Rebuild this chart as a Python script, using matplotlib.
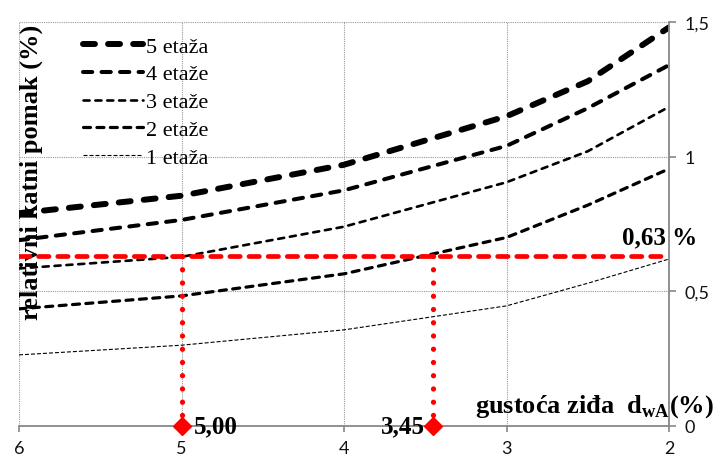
import matplotlib
matplotlib.use("Agg")
import matplotlib.pyplot as plt
from matplotlib.ticker import FuncFormatter

# gustoca zida (%) and relativni katni pomak (%) per number of storeys
gustoca = [6, 5, 4, 3, 2.5, 2]
etaze_5 = [0.79, 0.855, 0.97, 1.15, 1.28, 1.48]
etaze_4 = [0.69, 0.765, 0.875, 1.04, 1.18, 1.34]
etaze_3 = [0.585, 0.628, 0.74, 0.905, 1.02, 1.185]
etaze_2 = [0.435, 0.483, 0.565, 0.70, 0.82, 0.955]
etaze_1 = [0.264, 0.30, 0.357, 0.446, 0.53, 0.62]

granica = 0.63
odabir = [5.00, 3.45]
odabir_txt = ['5,00', '3,45']

plt.rcParams['mathtext.fontset'] = 'custom'
plt.rcParams['mathtext.rm'] = 'Liberation Serif'
plt.rcParams['mathtext.bf'] = 'Liberation Serif:bold'

fig = plt.figure(figsize=(7.16, 4.64), dpi=100)
ax = fig.add_axes([19/716, 1-427/464, (669-19)/716, (427-23)/464])

series = [
    (etaze_5, '5 etaža', 4.3, (2.0, 2.2), 'round'),
    (etaze_4, '4 etaže', 2.9, (2.3, 2.3), 'round'),
    (etaze_3, '3 etaže', 1.9, (2.3, 2.2), 'round'),
    (etaze_2, '2 etaže', 2.3, (2.2, 2.0), 'round'),
    (etaze_1, '1 etaža', 0.8, (3.6, 1.8), 'butt'),
]
for ys, lab, lw, dash, cap in series:
    ax.plot(gustoca, ys, color='black', lw=lw, dashes=dash,
            dash_capstyle=cap, label=lab, zorder=2)

# red guide lines
ax.plot([6, 2], [granica, granica], color='red', lw=3.4, dashes=(2.2, 1.85),
        dash_capstyle='round', zorder=3)
for xv, txt in zip(odabir, odabir_txt):
    ax.plot([xv, xv], [granica, 0], color='red', lw=3.8, dashes=(0.01, 2.5),
            dash_capstyle='round', zorder=3)
    ax.plot([xv], [0], marker='D', color='red', markersize=9.5,
            clip_on=False, zorder=4)
ax.annotate(odabir_txt[0], (odabir[0], 0), xytext=(9, 0), textcoords='offset points',
            ha='left', va='center', fontsize=18, fontweight='bold',
            family='Liberation Serif', annotation_clip=False)
ax.annotate(odabir_txt[1], (odabir[1], 0), xytext=(-6, 0), textcoords='offset points',
            ha='right', va='center', fontsize=18, fontweight='bold',
            family='Liberation Serif', annotation_clip=False)
ax.annotate('0,63 %', (2, granica), xytext=(-34, 6), textcoords='offset points',
            ha='left', va='bottom', fontsize=18, fontweight='bold',
            family='Liberation Serif', annotation_clip=False)

ax.set_xlim(6, 2)
ax.set_ylim(0, 1.5)
ax.set_xticks([6, 5, 4, 3, 2])
ax.set_yticks([0, 0.5, 1, 1.5])
ax.yaxis.set_major_formatter(FuncFormatter(lambda v, p: ('%g' % v).replace('.', ',')))
ax.yaxis.tick_right()
ax.grid(True, color='#999999', lw=0.8, linestyle=(0, (1, 1)))
ax.set_axisbelow(True)
for s in ['left', 'top']:
    ax.spines[s].set_visible(False)
for s in ['right', 'bottom']:
    ax.spines[s].set_color('#888888')
    ax.spines[s].set_linewidth(1.3)
ax.tick_params(axis='both', direction='out', color='#888888', width=1.2,
               labelsize=13, labelcolor='#111111')
ax.tick_params(axis='y', length=5, pad=6)
ax.tick_params(axis='x', length=4, pad=6)
for lbl in ax.get_xticklabels() + ax.get_yticklabels():
    lbl.set_family('Lato')

ax.text(31/716, 1-172/464, 'relativni katni pomak (%)', transform=fig.transFigure,
        rotation=90, ha='center', va='center', fontsize=19, fontweight='bold',
        family='Liberation Serif', zorder=1)
ax.text(475/716, 1-413/464, r'gustoća ziđa  $\mathbf{d}_{\mathbf{wA}}$(%)',
        transform=fig.transFigure, ha='left', va='baseline', fontsize=19,
        fontweight='bold', family='Liberation Serif')

leg = ax.legend(loc='upper left', bbox_to_anchor=(83/716, 1-37/464),
                bbox_transform=fig.transFigure, frameon=False,
                prop={'family': 'Liberation Serif', 'size': 16},
                handlelength=2.7, handletextpad=0.15, labelspacing=0.33,
                borderpad=0, borderaxespad=0)

fig.savefig('out.png', dpi=100)
